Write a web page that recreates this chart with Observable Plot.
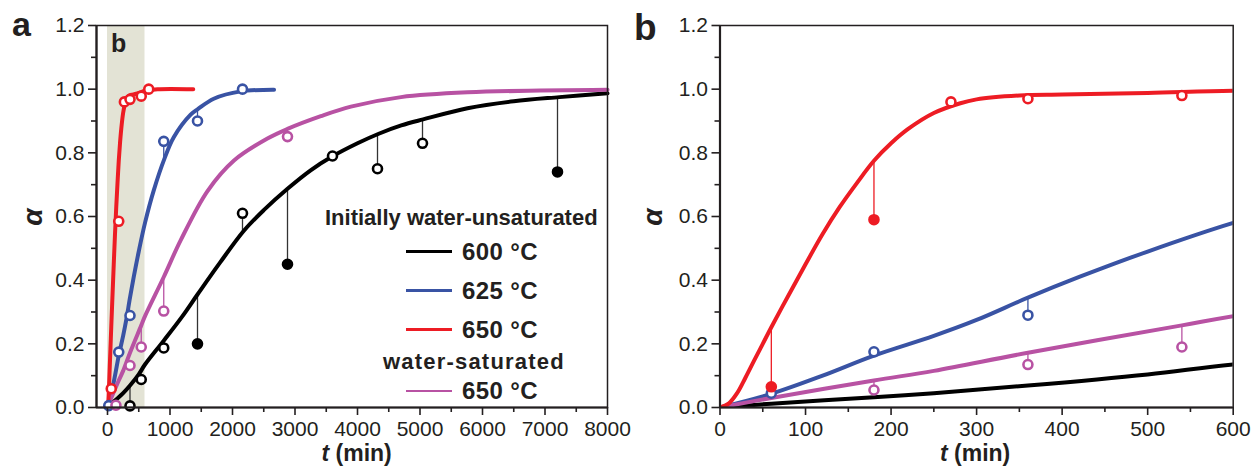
<!DOCTYPE html>
<html><head><meta charset="utf-8">
<script src="https://cdn.jsdelivr.net/npm/d3@7"></script>
<script src="https://cdn.jsdelivr.net/npm/@observablehq/plot@0.6"></script>
<style>
body{margin:0;background:#fff;}
#wrap{position:relative;width:1255px;height:467px;font-family:"Liberation Sans",Arial,sans-serif;color:#231f20;overflow:hidden;}
#wrap svg{position:absolute;top:0;overflow:visible;}
.lab{position:absolute;line-height:1;white-space:nowrap;font-weight:bold;color:#231f20;}
.leg{position:absolute;height:2.6px;}
</style></head><body><div id="wrap"></div>
<script>
// ---- model curves: [t (min), alpha] ----
const curve600 = [[0,0],[60,0.012],[180,0.032],[250,0.045],[360,0.069],[500,0.104],[600,0.135],[900,0.21],[1200,0.287],[1440,0.355],[1800,0.455],[2185,0.556],[2500,0.62],[2880,0.687],[3250,0.745],[3600,0.789],[4000,0.83],[4340,0.86],[4700,0.886],[5050,0.905],[5760,0.94],[6500,0.962],[7230,0.975],[8000,0.987]];
const curve625 = [[0,0],[60,0.043],[120,0.1],[180,0.163],[250,0.225],[300,0.275],[360,0.345],[420,0.41],[500,0.49],[600,0.58],[740,0.682],[910,0.781],[1060,0.849],[1330,0.92],[1450,0.938],[1700,0.97],[2130,0.993],[2665,0.998]];
const curve650 = [[0,0],[10,0.012],[20,0.045],[30,0.095],[40,0.148],[50,0.2],[60,0.252],[80,0.352],[100,0.45],[120,0.545],[140,0.63],[160,0.705],[180,0.775],[200,0.83],[220,0.875],[250,0.925],[280,0.955],[300,0.968],[350,0.98],[400,0.983],[500,0.988],[600,0.995],[800,1.0],[1372,1.0]];
const curveSat = [[0,0],[60,0.03],[180,0.085],[250,0.115],[360,0.172],[540,0.258],[600,0.287],[900,0.41],[1170,0.525],[1600,0.68],[2024,0.776],[2559,0.845],[2880,0.875],[3413,0.915],[3894,0.945],[4696,0.975],[5760,0.99],[8000,0.998]];

// ---- measured points, panel a ----
const pts600A = [{t:360,a:0.005,stem:true},{t:540,a:0.088},{t:900,a:0.187},{t:1440,a:0.2,filled:true,stem:true},{t:2160,a:0.61,stem:true},{t:2880,a:0.45,filled:true,stem:true},{t:3600,a:0.79},{t:4320,a:0.75,stem:true},{t:5040,a:0.83,stem:true},{t:7200,a:0.74,filled:true,stem:true}];
const pts625A = [{t:20,a:0.006},{t:180,a:0.174},{t:360,a:0.289},{t:900,a:0.836,stem:true},{t:1440,a:0.9,stem:true},{t:2160,a:1.0}];
const pts650A = [{t:60,a:0.059},{t:180,a:0.585},{t:270,a:0.96},{t:360,a:0.968},{t:540,a:0.978},{t:660,a:1.0}];
const ptsSatA = [{t:135,a:0.007},{t:360,a:0.132},{t:540,a:0.19,stem:true},{t:900,a:0.303,stem:true},{t:2880,a:0.851}];
// ---- measured points, panel b ----
const pts650B = [{t:60,a:0.065,filled:true,stem:true},{t:180,a:0.59,filled:true,stem:true},{t:270,a:0.96},{t:360,a:0.97},{t:540,a:0.98}];
const pts625B = [{t:60,a:0.045},{t:180,a:0.175},{t:360,a:0.29,stem:true}];
const ptsSatB = [{t:180,a:0.055,stem:true},{t:360,a:0.135,stem:true},{t:540,a:0.19,stem:true}];

// ---- axes / ticks ----
const yMajor = [0,0.2,0.4,0.6,0.8,1.0,1.2];
const yMinor = [0.1,0.3,0.5,0.7,0.9,1.1];
const xMajorA = [0,1000,2000,3000,4000,5000,6000,7000,8000];
const xMinorA = [500,1500,2500,3500,4500,5500,6500,7500];
const xMajorB = [0,100,200,300,400,500,600];
const xMinorB = [50,150,250,350,450,550];
const bandB = [0, 600]; // time window shown in panel b

const legendHead1 = "Initially water-unsaturated";
const legendHead2 = "water-saturated";
const legendLabels = ["600 °C","625 °C","650 °C","650 °C"];

const C = {k:"#000000", blue:"#3953a4", red:"#ed1c24", mag:"#b852a3"};
const INK = "#231f20";

function fitAt(curve, t){
  for(let i=1;i<curve.length;i++){
    if(t<=curve[i][0]){const [t0,a0]=curve[i-1],[t1,a1]=curve[i];return a0+(a1-a0)*(t-t0)/(t1-t0);}
  }
  return curve[curve.length-1][1];
}
function seriesMarks(curve, pts, color, clip){
  const stems = pts.filter(d=>d.stem).map(d=>({t:d.t,a:d.a,f:fitAt(curve,d.t)}));
  return {
    stems: Plot.link(stems,{x1:"t",y1:"a",x2:"t",y2:"f",stroke:color===C.k?"#333":color,strokeWidth:1.3,clip}),
    line: Plot.line(curve,{x:d=>d[0],y:d=>d[1],stroke:color,strokeWidth:4,curve:"catmull-rom",clip}),
    dots: Plot.dot(pts,{x:"t",y:"a",r:4.5,stroke:color,strokeWidth:2.6,fill:d=>d.filled?color:"white",clip})
  };
}
function axes(xMajor,xMinor,xmin){
  return [
    Plot.axisY(yMajor,{tickSize:8,tickPadding:4,tickFormat:d3.format(".1f"),label:null,strokeWidth:1.6}),
    Plot.axisY(yMinor,{tickSize:5,tickFormat:()=>"",label:null,strokeWidth:1.6}),
    Plot.axisX(xMajor,{tickSize:8,tickPadding:6,tickFormat:d3.format("d"),label:null,strokeWidth:1.6}),
    Plot.axisX(xMinor,{tickSize:5,tickFormat:()=>"",label:null,strokeWidth:1.6}),
    Plot.frame({stroke:INK,strokeWidth:1.5}),
    Plot.ruleX([xmin],{stroke:INK,strokeWidth:2.2}),
    Plot.ruleY([0],{stroke:INK,strokeWidth:2.2})
  ];
}
const style = {fontFamily:'"Liberation Sans",Arial,sans-serif',fontSize:"21px",color:INK,background:"transparent",overflow:"visible"};

// ---- panel a ----
const xDomA = [-176, 8000];
const sA = [seriesMarks(curve600,pts600A,C.k,false),seriesMarks(curve625,pts625A,C.blue,false),seriesMarks(curveSat,ptsSatA,C.mag,false),seriesMarks(curve650,pts650A,C.red,false)];
const plotA = Plot.plot({
  width:620,height:467,marginLeft:96,marginRight:13,marginTop:25,marginBottom:60,
  x:{domain:xDomA},y:{domain:[0,1.2]},style,
  marks:[
    Plot.rect([bandB],{x1:d=>d[0],x2:d=>d[1],y1:0,y2:1.2,fill:"#e3e3d5"}),
    ...sA.map(s=>s.stems),...sA.map(s=>s.line),...sA.map(s=>s.dots),
    ...axes(xMajorA,xMinorA,xDomA[0])
  ]
});
plotA.style.left="0px";

// ---- panel b ----
const xDomB = [0, 600];
const sB = [seriesMarks(curve600,[],C.k,true),seriesMarks(curve625,pts625B,C.blue,true),seriesMarks(curveSat,ptsSatB,C.mag,true),seriesMarks(curve650,pts650B,C.red,true)];
const plotB = Plot.plot({
  width:635,height:467,marginLeft:99.5,marginRight:22.3,marginTop:25,marginBottom:60,
  x:{domain:xDomB},y:{domain:[0,1.2]},style,
  marks:[
    ...sB.map(s=>s.stems),...sB.map(s=>s.line),...sB.map(s=>s.dots),
    ...axes(xMajorB,xMinorB,xDomB[0])
  ]
});
plotB.style.left="620px";

const wrap = document.getElementById("wrap");
wrap.appendChild(plotA); wrap.appendChild(plotB);

function lab(text, left, top, fs, extra){
  const d=document.createElement("div"); d.className="lab";
  d.style.left=left+"px"; d.style.top=top+"px"; d.style.fontSize=fs+"px";
  if(extra) Object.assign(d.style, extra);
  if(typeof text==="string") d.textContent=text; else d.appendChild(text);
  wrap.appendChild(d); return d;
}
// panel letters
lab("a",12,6.7,34);
lab("b",634,8.7,37);
lab("b",111,30.5,25);
// axis labels
function tLabel(){const s=document.createElement("span");s.innerHTML='<i>t</i> (min)';return s;}
lab(tLabel(),321.5,441.8,23);
lab(tLabel(),940,441.8,23);
for(const cx of [33,653]){
  lab("α",cx,217,28,{fontStyle:"italic",transform:"translate(-50%,-50%) rotate(-90deg)"});
}
// legend
lab(legendHead1,325,207.2,22);
lab(legendHead2,383,351,22,{letterSpacing:"1.2px"});
const legColors=[C.k,C.blue,C.red,C.mag];
const legY=[251.7,290.7,329.3,391];
legendLabels.forEach((t,i)=>{
  const ln=document.createElement("div"); ln.className="leg";
  ln.style.left="406px"; ln.style.width="46px"; ln.style.top=(legY[i]-1.3)+"px"; ln.style.background=legColors[i];
  wrap.appendChild(ln);
  lab(t,462,legY[i]-0.4885*24,24,{letterSpacing:"0.4px"});
});
</script></body></html>
